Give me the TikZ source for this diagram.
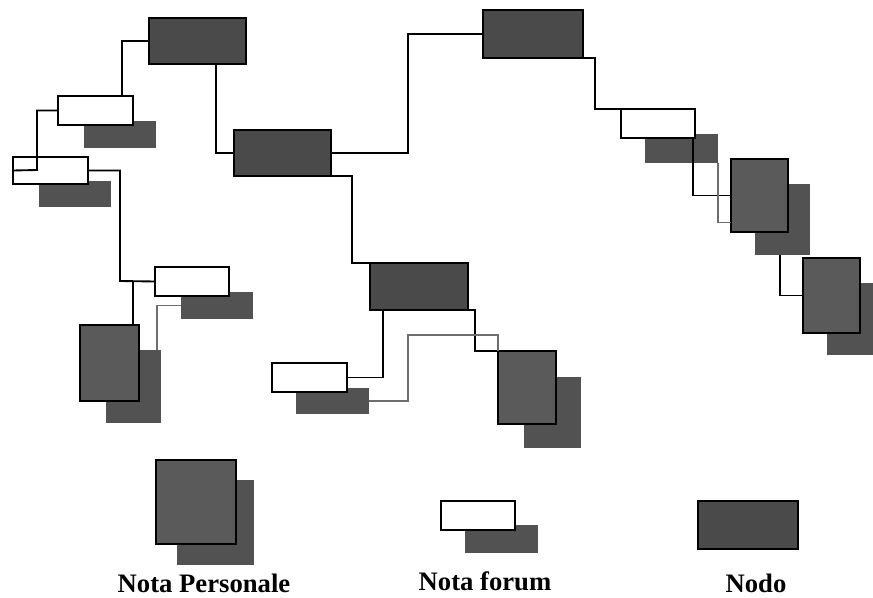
\documentclass[tikz,border=0pt]{standalone}
\usepackage{fontspec}
\setmainfont{Liberation Serif}
\usetikzlibrary{calc}
\definecolor{nodofill}{HTML}{4A4A4A}
\definecolor{persfill}{HTML}{5A5A5A}
\definecolor{shadowfill}{HTML}{525252}
\definecolor{grayline}{HTML}{6E6E6E}
\begin{document}
\begin{tikzpicture}[x=0.75pt,y=-0.75pt,
  sz/.style 2 args={minimum width={#1*0.75pt},minimum height={#2*0.75pt}},
  boxbase/.style={inner sep=0pt,outer sep=0pt,anchor=north west},
  nodo/.style={boxbase,draw=black,line width=1.5pt,fill=nodofill},
  forum/.style={boxbase,draw=black,line width=1.5pt,fill=white},
  pers/.style={boxbase,draw=black,line width=1.5pt,fill=persfill},
  shadowbox/.style={boxbase,fill=shadowfill},
  conn/.style={draw=black,line width=1.4pt},
  gconn/.style={draw=grayline,line width=1.2pt},
  lbl/.style={font=\fontsize{20}{24}\selectfont\bfseries,anchor=base,inner sep=0pt}
]
\fill[white] (0,0) rectangle (873,598);
\useasboundingbox (0,0) rectangle (873,598);

% shadows
\node[shadowbox,sz={72}{27}] (F1s) at (84,121) {};
\node[shadowbox,sz={72}{26}] (F2s) at (39,181) {};
\node[shadowbox,sz={72}{27}] (F3s) at (181,292) {};
\node[shadowbox,sz={73}{26}] (F4s) at (296,388) {};
\node[shadowbox,sz={73}{29}] (F5s) at (645,134) {};
\node[shadowbox,sz={73}{28}] (FLs) at (465,525) {};
\node[shadowbox,sz={55}{73}] (P1s) at (106,350) {};
\node[shadowbox,sz={57}{71}] (P2s) at (524,377) {};
\node[shadowbox,sz={55}{71}] (P3s) at (755,184) {};
\node[shadowbox,sz={46}{72}] (P4s) at (827,283) {};
\node[shadowbox,sz={77}{85}] (PLs) at (177,480) {};

% nodi
\node[nodo,sz={97}{46}] (N1) at (149,18) {};
\node[nodo,sz={97}{46}] (N2) at (234,130) {};
\node[nodo,sz={100}{48}] (N3) at (483,10) {};
\node[nodo,sz={98}{47}] (N4) at (370,263) {};
\node[nodo,sz={100}{48}] (NL) at (698,501) {};

% note forum
\node[forum,sz={75}{29}] (F1) at (58,96) {};
\node[forum,sz={75}{27}] (F2) at (13,157) {};
\node[forum,sz={74}{29}] (F3) at (155,267) {};
\node[forum,sz={75}{29}] (F4) at (272,363) {};
\node[forum,sz={74}{29}] (F5) at (621,109) {};
\node[forum,sz={74}{29}] (FL) at (441,501) {};

% note personali
\node[pers,sz={59}{76}] (P1) at (80,325) {};
\node[pers,sz={58}{73}] (P2) at (498,351) {};
\node[pers,sz={57}{73}] (P3) at (731,159) {};
\node[pers,sz={57}{75}] (P4) at (803,258) {};
\node[pers,sz={80}{84}] (PL) at (156,460) {};

% connectors
\draw[conn] (N1.west) -| (F1.north -| 122,0);
\draw[conn] (N1.south -| 216,0) |- (N2.west);
\draw[conn] (F1.west) -| (37,170) -- (F2.west);
\coordinate (j1) at (133,281);
\draw[conn] (F2.east) -| (120,281) -- (F3.west);
\draw[conn] (j1) -- (j1 |- P1.north);
\draw[gconn] (F3s.west) -| (P1s.north -| 157,0);
\draw[conn] (N2.east) -| ($(N3.west)+(-75,0)$) -- (N3.west);
\draw[conn] (N2.south east) -| (352,263) -- (N4.north west);
\draw[conn] (N4.south -| 383,0) |- (F4.east);
\draw[conn] (N4.south east) -| (P2.north west -| 475,0) -- (P2.north west);
\draw[gconn] (F4s.east) -| (408,335) -| (P2.north west);
\draw[conn] (N3.south east) -| (595,109) -- (F5.north west);
\draw[conn] (F5.south -| 693,0) |- (P3.west);
\draw[gconn] (F5s.south east) |- ($(P3.west)+(0,27)$);
\draw[conn] (P3s.south -| 780,0) |- (P4.west);

% labels
\node[lbl] (t1) at (204,592) {Nota Personale};
\node[lbl] (t2) at (485,590) {Nota forum};
\node[lbl] (t3) at (756,592) {Nodo};
\end{tikzpicture}
\end{document}
